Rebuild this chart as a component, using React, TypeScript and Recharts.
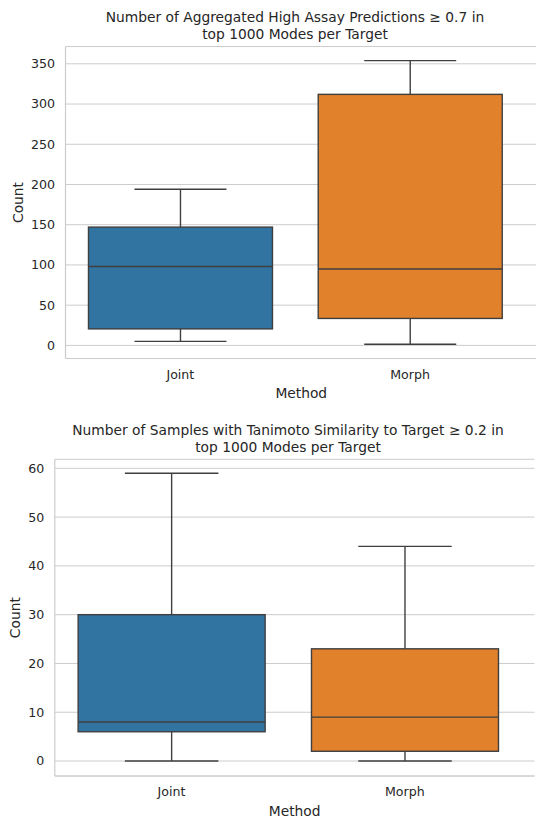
import { ComposedChart, Bar, XAxis, YAxis, CartesianGrid } from "recharts";

const methods = ["Joint", "Morph"];
const boxColors = ["#3274a1", "#e1812c"];

// top panel: aggregated high assay predictions >= 0.7
const assayLow = [5, 1.5];
const assayQ1 = [20.5, 33.5];
const assayMedian = [98, 95];
const assayQ3 = [147, 312];
const assayHigh = [194, 354];
const assayTicks = [0, 50, 100, 150, 200, 250, 300, 350];
const assayDomain = [-16.3, 371.5];

// bottom panel: tanimoto similarity >= 0.2
const simLow = [0, 0];
const simQ1 = [6, 2];
const simMedian = [8, 9];
const simQ3 = [30, 23];
const simHigh = [59, 44];
const simTicks = [0, 10, 20, 30, 40, 50, 60];
const simDomain = [-3.07, 61.85];

const FONT = "DejaVu Sans, sans-serif";
const TEXT = "#262626";
const GRID = "#cccccc";
const EDGE = "#3f3f3f";

function buildRows(low: number[], q1: number[], med: number[], q3: number[], high: number[]) {
  return methods.map((m, i) => ({
    method: m,
    range: [low[i], high[i]],
    low: low[i],
    q1: q1[i],
    median: med[i],
    q3: q3[i],
    high: high[i],
    color: boxColors[i],
  }));
}

const assayRows = buildRows(assayLow, assayQ1, assayMedian, assayQ3, assayHigh);
const simRows = buildRows(simLow, simQ1, simMedian, simQ3, simHigh);

function BoxShape(props: any) {
  const { x, y, width, height, payload } = props;
  const { low, q1, median, q3, high, color } = payload;
  const top = Math.min(y, y + height);
  const h = Math.abs(height);
  const toY = (v: number) => top + (h * (high - v)) / (high - low);
  const cx = x + width / 2;
  const cap = width / 4;
  return (
    <g>
      <line x1={cx} x2={cx} y1={toY(high)} y2={toY(q3)} stroke={EDGE} strokeWidth={1.4} />
      <line x1={cx} x2={cx} y1={toY(q1)} y2={toY(low)} stroke={EDGE} strokeWidth={1.4} />
      <line x1={cx - cap} x2={cx + cap} y1={toY(high)} y2={toY(high)} stroke={EDGE} strokeWidth={1.4} />
      <line x1={cx - cap} x2={cx + cap} y1={toY(low)} y2={toY(low)} stroke={EDGE} strokeWidth={1.4} />
      <rect
        x={x}
        y={toY(q3)}
        width={width}
        height={toY(q1) - toY(q3)}
        fill={color}
        stroke={EDGE}
        strokeWidth={1.4}
      />
      <line x1={x} x2={x + width} y1={toY(median)} y2={toY(median)} stroke={EDGE} strokeWidth={1.4} />
    </g>
  );
}

function BoxPanel(p: {
  rows: any[];
  domain: number[];
  ticks: number[];
  width: number;
  height: number;
  top: number;
  yWidth: number;
  xHeight: number;
  padRight: number;
  rightBorder: boolean;
  countOffset: number;
  methodOffset: number;
}) {
  return (
    <ComposedChart
      width={p.width}
      height={p.height}
      data={p.rows}
      margin={{ top: p.top, right: p.rightBorder ? 1.5 : 0, bottom: 0, left: 0 }}
      barCategoryGap="10%"
    >
      <CartesianGrid vertical={false} stroke={GRID} strokeWidth={1} />
      <XAxis
        dataKey="method"
        height={p.xHeight}
        padding={{ left: 0, right: p.padRight }}
        axisLine={{ stroke: GRID, strokeWidth: 1.2 }}
        tickLine={false}
        tickSize={0}
        tickMargin={11.5}
        tick={{ fill: TEXT, fontSize: 12.6, fontFamily: FONT }}
        label={{
          value: "Method",
          position: "insideBottom",
          offset: p.methodOffset,
          fill: TEXT,
          fontSize: 13.8,
          fontFamily: FONT,
        }}
      />
      <XAxis
        xAxisId="top"
        orientation="top"
        dataKey="method"
        height={0}
        tick={false}
        tickLine={false}
        axisLine={{ stroke: GRID, strokeWidth: 1.2 }}
      />
      <YAxis
        type="number"
        domain={p.domain}
        ticks={p.ticks}
        width={p.yWidth}
        axisLine={{ stroke: GRID, strokeWidth: 1.2 }}
        tickLine={false}
        tickSize={0}
        tickMargin={10.5}
        tick={{ fill: TEXT, fontSize: 12.6, fontFamily: FONT }}
        label={{
          value: "Count",
          angle: -90,
          position: "insideLeft",
          offset: p.countOffset,
          fill: TEXT,
          fontSize: 13.8,
          fontFamily: FONT,
          style: { textAnchor: "middle" },
        }}
      />
      {p.rightBorder && (
        <YAxis
          yAxisId="right"
          orientation="right"
          type="number"
          domain={p.domain}
          width={0}
          tick={false}
          tickLine={false}
          axisLine={{ stroke: GRID, strokeWidth: 1.2 }}
        />
      )}
      <Bar dataKey="range" shape={<BoxShape />} isAnimationActive={false} />
    </ComposedChart>
  );
}

const titleStyle = {
  position: "absolute" as const,
  transform: "translateX(-50%)",
  whiteSpace: "nowrap" as const,
  textAlign: "center" as const,
  fontFamily: FONT,
  fontSize: 13.8,
  lineHeight: "17px",
  color: TEXT,
};

export default function App() {
  return (
    <div
      style={{
        position: "absolute",
        left: 0,
        top: 0,
        width: 536,
        height: 818,
        overflow: "hidden",
        background: "#fff",
      }}
    >
      <div style={{ position: "absolute", left: 0, top: 0 }}>
        <BoxPanel
          rows={assayRows}
          domain={assayDomain}
          ticks={assayTicks}
          width={537}
          height={405}
          top={46.5}
          yWidth={65.5}
          xHeight={46.5}
          padRight={12}
          rightBorder={false}
          countOffset={18}
          methodOffset={6.7}
        />
      </div>
      <div style={{ position: "absolute", left: 0, top: 405 }}>
        <BoxPanel
          rows={simRows}
          domain={simDomain}
          ticks={simTicks}
          width={536}
          height={413}
          top={54.3}
          yWidth={54.8}
          xHeight={42}
          padRight={13}
          rightBorder={true}
          countOffset={15}
          methodOffset={2.5}
        />
      </div>
      <div style={{ ...titleStyle, left: 295, top: 8.8 }}>
        Number of Aggregated High Assay Predictions ≥ 0.7 in
        <br />
        top 1000 Modes per Target
      </div>
      <div style={{ ...titleStyle, left: 288, top: 421.5 }}>
        Number of Samples with Tanimoto Similarity to Target ≥ 0.2 in
        <br />
        top 1000 Modes per Target
      </div>
    </div>
  );
}
